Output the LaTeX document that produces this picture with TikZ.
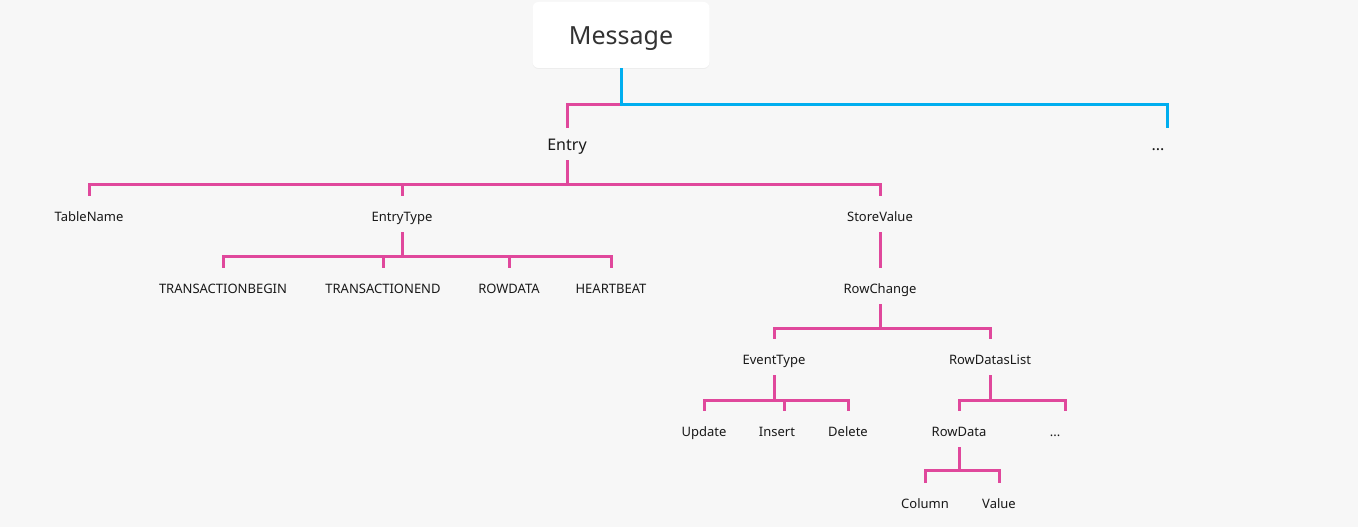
\documentclass[tikz,border=0pt]{standalone}
\usepackage{fontspec}
\setmainfont{Noto Sans}
\usetikzlibrary{shadows}
\definecolor{bgray}{HTML}{F7F7F7}
\definecolor{pinkline}{HTML}{E0489C}
\definecolor{blueline}{HTML}{00AEEF}
\definecolor{inkgray}{HTML}{333333}
\tikzset{
  leaf/.style={inner sep=0pt, anchor=base, text height=25pt, text depth=11pt,
    font=\fontsize{13}{15}\selectfont, text=black!90},
  headlabel/.style={inner sep=0pt, anchor=base, text height=22pt, text depth=10pt,
    font=\fontsize{16}{18}\selectfont, text=black!90},
  pinklink/.style={draw=pinkline, line width=3pt},
  bluelink/.style={draw=blueline, line width=3pt}
}
\begin{document}
\begin{tikzpicture}[x=1pt,y=-1pt]
      \useasboundingbox (0,0) rectangle (1358,527);
      \fill[bgray] (0,0) rectangle (1358,527);
      \node[fill=white, rounded corners=6pt, inner sep=0pt, minimum width=177pt,
        text height=43pt, text depth=23pt,
        drop shadow={opacity=0.08, shadow xshift=0pt, shadow yshift=-1pt},
        font=\fontsize{25}{28}\selectfont, text=inkgray] (msg) at (621,35) {Message};
%       level 1
      \node[headlabel] (entry) at (567,150) {Entry};
      \node[headlabel] (more) at (1158,150) {...};
%       level 2
      \node[leaf] (tn) at (89,221) {TableName};
      \node[leaf] (et) at (402,221) {EntryType};
      \node[leaf] (sv) at (880,221) {StoreValue};
      \node[leaf] (tb) at (223,293) {TRANSACTIONBEGIN};
      \node[leaf] (te) at (383,293) {TRANSACTIONEND};
      \node[leaf] (rd) at (509,293) {ROWDATA};
      \node[leaf] (hb) at (611,293) {HEARTBEAT};
      \node[leaf] (rc) at (880,293) {RowChange};
      \node[leaf] (evt) at (774,364) {EventType};
      \node[leaf] (rdl) at (990,364) {RowDatasList};
      \node[leaf] (upd) at (704,436) {Update};
      \node[leaf] (ins) at (777,436) {Insert};
      \node[leaf] (del) at (848,436) {Delete};
      \node[leaf] (rowd) at (959,436) {RowData};
      \node[leaf] (dots) at (1055,436) {...};
      \node[leaf] (col) at (925,508) {Column};
      \node[leaf] (val) at (999,508) {Value};
%       connectors
      \path (msg.south) ++(0,36) coordinate (hub);
      \draw[pinklink] (hub) -| (entry.north);
      \draw[bluelink] (msg.south) -- (hub) -| ([xshift=9pt]more.north);
      \foreach \kid in {tn,et,sv}
        \draw[pinklink] (entry.south) -- ++(0,24) -| (\kid.north);
      \foreach \kid in {tb,te,rd,hb}
        \draw[pinklink] (et.south) -- ++(0,24) -| (\kid.north);
      \draw[pinklink] (sv.south) -- (rc.north);
      \foreach \kid in {evt,rdl}
        \draw[pinklink] (rc.south) -- ++(0,24) -| (\kid.north);
      \draw[pinklink] (evt.south) -- ++(0,25) -| (upd.north) (evt.south) ++(0,25) -| ([xshift=7pt]ins.north) (evt.south) ++(0,25) -| (del.north);
      \draw[pinklink] (rdl.south) -- ++(0,25) -| (rowd.north) (rdl.south) ++(0,25) -| ([xshift=10pt]dots.north);
      \foreach \kid in {col,val}
        \draw[pinklink] (rowd.south) -- ++(0,23) -| (\kid.north);
\end{tikzpicture}
\end{document}
